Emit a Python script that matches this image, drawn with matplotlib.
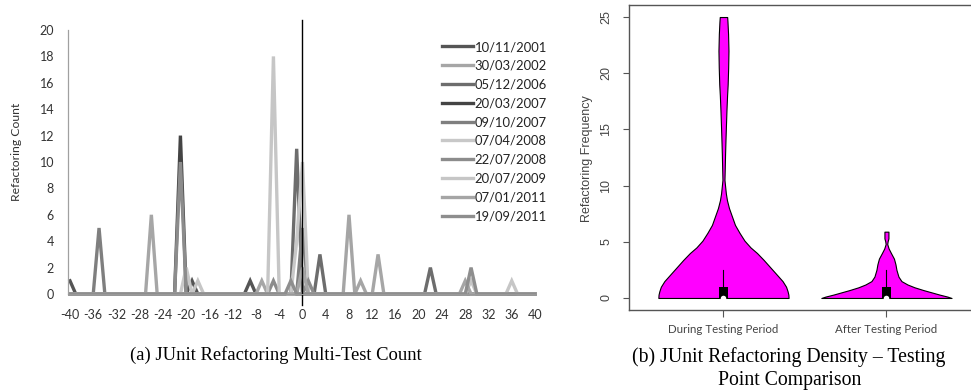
import numpy as np
import matplotlib.pyplot as plt

plt.rcParams['axes.unicode_minus'] = False

# ---- (a) multi-test count: days around testing point, non-zero counts per release
days = list(range(-40, 41))
releases = ['10/11/2001', '30/03/2002', '05/12/2006', '20/03/2007', '09/10/2007',
            '07/04/2008', '22/07/2008', '20/07/2009', '07/01/2011', '19/09/2011']
release_colors = ['#555555', '#a6a6a6', '#6d6d6d', '#444444', '#7f7f7f',
                  '#c8c8c8', '#8c8c8c', '#c6c6c6', '#a5a5a5', '#8e8e8e']
counts_2001a = {-40: 1, -19: 1, -9: 1}
counts_2002 = {-26: 6, -7: 1, 13: 3}
counts_2006 = {-1: 11, 3: 3, 22: 2}
counts_2007a = {-21: 12}
counts_2007b = {-35: 5, 0: 5}
counts_2008a = {-20: 2, -1: 4, 0: 10}
counts_2008b = {-21: 10, -5: 1, 1: 1}
counts_2009 = {-18: 1, -5: 18, 29: 1, 36: 1}
counts_2011a = {0: 2, 8: 6, 10: 1, 28: 1}
counts_2011b = {-2: 1, 29: 2}
all_counts = [counts_2001a, counts_2002, counts_2006, counts_2007a, counts_2007b,
              counts_2008a, counts_2008b, counts_2009, counts_2011a, counts_2011b]

# ---- (b) violin outlines: (frequency, half width in pixels at full size)
groups = ['During Testing Period', 'After Testing Period']
during_y = [0, 0.3, 0.6, 1.0, 1.5, 2.2, 2.8, 3.4, 4.0, 4.5, 5.1, 5.8, 6.5, 7.3, 8.0,
            8.7, 9.3, 9.9, 10.5, 11.6, 12.8, 14, 15.4, 16.7, 18, 19, 20.5, 22, 23.5, 24.6, 25]
during_w = [65, 64.8, 64, 62.5, 59, 52, 46, 40, 33.5, 27, 21, 16, 11.5, 8.3, 5.5,
            3.5, 2.4, 1.7, 1.0, 1.3, 1.6, 2, 2.5, 3, 3.6, 4.2, 4.7, 5, 4.6, 4, 3.7]
after_y = [0, 0.12, 0.3, 0.5, 0.7, 0.95, 1.2, 1.5, 1.9, 2.5, 3.0, 3.5, 4.0, 4.4,
           4.8, 5.05, 5.3, 5.9]
after_w = [65, 61, 53, 45, 37, 28, 21, 15, 12, 10, 9, 7.5, 4.5, 2.2, 0.8, 1.2, 2, 2]
box_q1 = [0, 0]
box_q3 = [0.95, 0.95]
whisker_top = [2.5, 2.5]
medians = [0, 0]

fig = plt.figure(figsize=(9.71, 3.91), dpi=100)
sans = ['Lato', 'DejaVu Sans']

# ---------------- left chart
ax = fig.add_axes([68 / 971, 1 - 294 / 391, 467 / 971, 264 / 391])
for name, col, cnt in zip(releases, release_colors, all_counts):
    vals = [cnt.get(d, 0) for d in days]
    ax.plot(days, vals, color=col, lw=2.4, label=name, clip_on=False,
            solid_joinstyle='miter')
ax.set_xlim(-40.34, 40)
ax.set_ylim(0, 20)
ax.set_xticks(range(-40, 41, 4))
ax.set_yticks(range(0, 21, 2))
ax.tick_params(length=0, labelsize=9, colors='#333333')
ax.tick_params(axis='y', pad=10)
ax.tick_params(axis='x', pad=11)
for lab in ax.get_xticklabels() + ax.get_yticklabels():
    lab.set_family(sans)
for s in ['top', 'right']:
    ax.spines[s].set_visible(False)
ax.spines['left'].set_color('#a0a0a0')
ax.spines['left'].set_linewidth(0.9)
ax.spines['bottom'].set_color('#999999')
ax.axvline(0, ymin=-0.042, ymax=1.038, color='black', lw=1, clip_on=False)
leg = ax.legend(loc='upper left', bbox_to_anchor=(442 / 971, 1 - 41 / 391),
                bbox_transform=fig.transFigure, frameon=False, borderpad=0,
                borderaxespad=0, handlelength=2.4, handletextpad=0.1,
                labelspacing=0.52, prop={'family': sans, 'size': 9.4})
for t in leg.get_texts():
    t.set_color('#222222')
fig.text(17 / 971, 1 - 152 / 391, 'Refactoring Count', rotation=90, ha='center',
         va='center', fontsize=8.8, family=sans, color='#333333')
fig.text(276 / 971, 1 - 355 / 391, '(a) JUnit Refactoring Multi-Test Count',
         ha='center', va='center', fontsize=13.4, family='Liberation Serif')

# ---------------- right chart
bx = fig.add_axes([629 / 971, 1 - 310 / 391, 343 / 971, 305 / 391])
px_per_unit = 162.7
for i, (ys, ws) in enumerate([(during_y, during_w), (after_y, after_w)]):
    c = i + 1
    hw = np.array(ws) / px_per_unit
    bx.fill_betweenx(ys, c - hw, c + hw, facecolor='#ff00ff', edgecolor='black',
                     lw=0.8, zorder=2)
    bx.plot([c, c], [box_q3[i], whisker_top[i]], color='black', lw=0.8, zorder=3)
    bx.fill_between([c - 0.027, c + 0.027], box_q1[i], box_q3[i], color='black',
                    lw=0, zorder=3)
    bx.scatter([c], [medians[i]], s=16, color='white', zorder=4, lw=0)
bx.set_xlim(0.4204, 2.525)
bx.set_ylim(-1.07, 26.07)
bx.set_xticks([1, 2])
bx.set_xticklabels(groups, family=sans, fontsize=8.3, color='#444444')
bx.set_yticks(range(0, 26, 5))
bx.set_yticklabels([str(v) for v in range(0, 26, 5)], rotation=90, va='center',
                   family='Liberation Sans', fontsize=9, color='#444444')
bx.tick_params(axis='y', length=4, pad=8, color='#555555', width=0.8)
bx.tick_params(axis='x', length=5, pad=5, color='#555555', width=0.8)
for s in bx.spines.values():
    s.set_color('#555555')
    s.set_linewidth(1)
bx.spines['right'].set_visible(False)
fig.text(587 / 971, 1 - 159 / 391, 'Refactoring Frequency', rotation=90, ha='center',
         va='center', fontsize=9, family='Liberation Sans', color='#444444')
fig.text(789 / 971, 1 - 357 / 391, '(b) JUnit Refactoring Density \u2013 Testing',
         ha='center', va='center', fontsize=14.2, family='Liberation Serif')
fig.text(790 / 971, 1 - 380 / 391, 'Point Comparison',
         ha='center', va='center', fontsize=14.2, family='Liberation Serif')

fig.savefig('out.png', dpi=100)
